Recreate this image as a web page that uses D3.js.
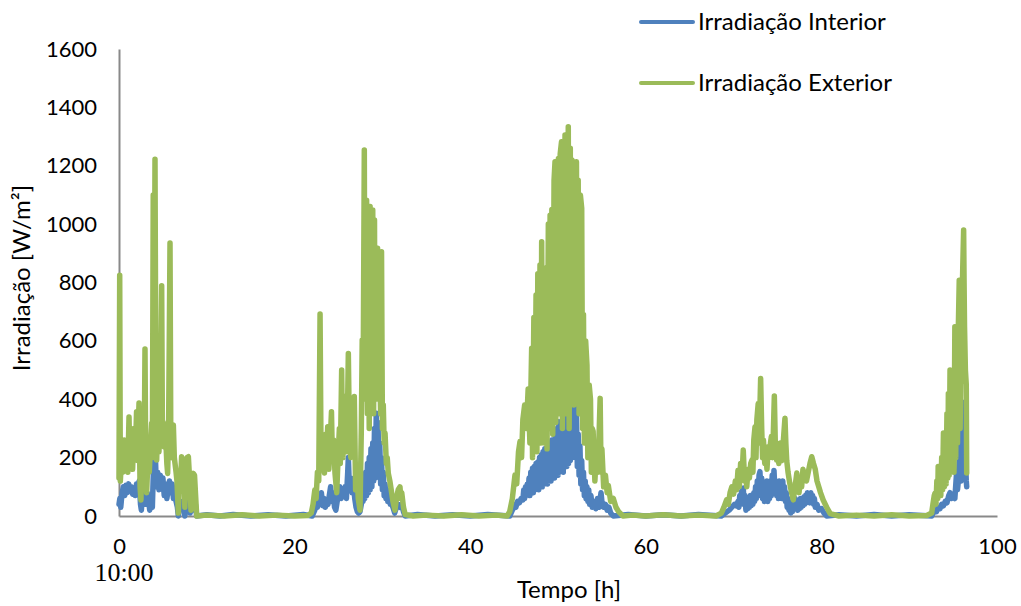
<!DOCTYPE html>
<html>
<head>
<meta charset="utf-8">
<script src="https://cdn.jsdelivr.net/npm/d3@7"></script>
<style>
  body { margin: 0; background: #fff; }
  text { font-family: Lato, "Open Sans", sans-serif; fill: #000; }
  .tick line { display: none; }
  .domain { stroke: #898989; stroke-width: 2; }
</style>
</head>
<body>
<div id="chart"></div>
<script>
// hours / W/m2
const interior = [
  [0,40],[0.1,60],[0.2,30],[0.35,80],[0.5,100],[0.65,70],[0.8,105],[0.95,80],[1.1,110],[1.25,90],[1.4,100],[1.55,75],
  [1.7,95],[1.85,70],[2.0,110],[2.15,90],[2.3,120],[2.45,40],[2.55,20],[2.7,100],[2.85,70],[2.95,130],[3.05,40],[3.2,80],
  [3.35,60],[3.5,20],[3.65,50],[3.8,30],[3.95,190],[4.05,120],[4.15,200],[4.25,100],[4.4,150],[4.55,90],[4.7,140],[4.85,100],
  [5.0,130],[5.15,70],[5.3,110],[5.45,60],[5.6,90],[5.75,120],[5.9,80],[6.05,110],[6.2,60],[6.35,90],[6.5,50],[6.65,30],
  [6.76,0],[6.9,40],[7.05,20],[7.2,50],[7.35,30],[7.5,0],[7.65,40],[7.8,20],[7.95,50],[8.1,10],[8.25,30],[8.4,50],[8.55,20],
  [8.7,40],[8.85,0],[10,4],[11.5,0],[13,5],[15,0],[17,4],[19,0],[21,5],[22,0],
  [22.3,20],[22.45,60],[22.6,30],[22.75,70],[22.9,50],[23.05,80],[23.2,35],[23.35,60],[23.5,30],[23.65,55],[23.8,40],[23.95,70],
  [24.1,100],[24.25,50],[24.4,80],[24.55,30],[24.7,20],[24.85,50],[25.0,70],[25.15,100],[25.3,60],[25.45,90],[25.6,70],[25.75,100],
  [25.9,60],[26.05,150],[26.12,200],[26.25,90],[26.4,130],[26.55,80],[26.7,110],[26.85,60],[27.0,30],[27.15,15],[27.3,10],[27.45,15],
  [27.6,40],[27.7,80],[27.8,50],[27.9,120],[28.0,60],[28.1,150],[28.2,70],[28.3,180],[28.4,80],[28.5,200],[28.6,90],[28.7,230],
  [28.8,100],[28.9,250],[29.0,120],[29.1,300],[29.2,130],[29.3,352],[29.4,150],[29.5,320],[29.6,140],[29.7,250],[29.8,110],[29.9,200],
  [30.0,90],[30.1,150],[30.2,70],[30.3,110],[30.4,60],[30.5,90],[30.6,50],[30.75,70],[30.9,40],
  [31.05,40],[31.2,30],[31.4,10],[31.6,30],[31.8,40],[32.0,30],[32.2,40],[32.4,15],[32.6,0],[34,5],[36,0],[38,4],[40,0],[42,5],[44.5,0],
  [44.8,20],[45.0,40],[45.2,30],[45.4,50],[45.6,45],[45.8,60],[46.0,55],[46.1,90],[46.2,60],[46.3,100],[46.4,70],[46.5,110],
  [46.6,80],[46.7,130],[46.8,70],[46.9,150],[47.0,90],[47.1,164],[47.2,80],[47.3,170],[47.4,90],[47.5,180],[47.6,100],[47.7,185],
  [47.8,90],[47.9,200],[48.0,110],[48.1,210],[48.2,100],[48.3,220],[48.4,110],[48.5,230],[48.6,120],[48.7,220],[48.8,110],[48.9,240],
  [49.0,130],[49.1,250],[49.2,120],[49.3,260],[49.4,140],[49.5,250],[49.6,130],[49.7,280],[49.8,150],[49.9,300],[50.0,140],[50.1,323],
  [50.2,160],[50.3,300],[50.4,170],[50.5,310],[50.6,150],[50.7,330],[50.8,180],[50.9,340],[51.0,170],[51.1,350],[51.2,180],[51.3,330],
  [51.4,190],[51.5,360],[51.6,200],[51.7,370],[51.8,210],[51.9,392],[52.0,200],[52.1,350],[52.2,170],[52.3,280],[52.4,140],[52.5,240],
  [52.6,110],[52.7,190],[52.8,90],[52.9,150],[53.0,70],[53.1,120],[53.2,60],[53.3,100],[53.4,50],[53.5,90],[53.6,40],[53.75,70],
  [53.9,30],[54.1,50],[54.3,25],[54.5,60],[54.7,30],[54.9,80],[55.0,50],[55.2,30],[55.4,40],[55.6,20],[55.8,30],[56.0,10],
  [56.3,0],[58,5],[60,0],[62,4],[64,0],[66,5],[68.6,0],[69.5,20],[69.8,30],[70.1,40],[70.3,35],
  [70.5,50],[70.6,30],[70.7,70],[70.8,40],[70.9,85],[71.0,50],[71.1,96],[71.2,40],[71.3,70],[71.4,20],[71.5,50],[71.6,25],
  [71.7,60],[71.8,30],[71.9,70],[72.0,35],[72.1,65],[72.2,40],[72.3,80],[72.4,50],[72.5,100],[72.6,60],[72.7,120],[72.8,70],
  [72.9,140],[73.0,152],[73.1,80],[73.2,130],[73.3,60],[73.4,100],[73.5,50],[73.6,110],[73.7,60],[73.8,120],[73.9,50],[74.0,100],
  [74.1,60],[74.2,120],[74.3,70],[74.4,140],[74.5,80],[74.6,156],[74.7,90],[74.8,120],[74.9,70],[75.0,110],[75.1,60],[75.2,120],
  [75.3,70],[75.4,110],[75.5,60],[75.6,120],[75.7,70],[75.8,100],[75.9,50],[76.0,80],[76.1,30],[76.2,60],[76.3,20],[76.4,40],
  [76.5,10],[76.6,30],[76.7,15],[76.8,50],[76.9,25],[77.0,60],[77.1,30],[77.2,55],[77.3,20],[77.4,50],[77.5,25],[77.6,60],
  [77.7,30],[77.8,55],[77.9,35],[78.0,65],[78.1,40],[78.2,70],[78.3,45],[78.4,80],[78.5,50],[78.6,75],[78.7,45],[78.8,80],
  [78.9,50],[79.0,70],[79.1,40],[79.2,60],[79.3,30],[79.5,40],[79.7,20],[80.0,25],[80.3,10],[80.6,0],
  [82,4],[84,0],[86,5],[88,0],[90,4],[92.56,0],[92.9,20],[93.1,15],[93.3,30],[93.5,25],[93.7,40],
  [93.9,35],[94.1,50],[94.3,45],[94.5,70],[94.65,80],[94.8,60],[95.0,70],[95.2,60],[95.4,150],[95.5,90],[95.6,120],[95.8,284],[95.9,120],
  [96.0,200],[96.15,250],[96.3,390],[96.4,200],[96.5,120],[96.55,100]
];

const exterior = [
  [0,130],[0.08,825],[0.15,120],[0.3,200],[0.45,150],[0.6,260],[0.75,170],[0.9,230],[1.0,150],[1.14,339],[1.25,180],[1.4,250],
  [1.55,160],[1.7,300],[1.85,200],[2.0,357],[2.1,190],[2.28,387],[2.4,100],[2.5,55],[2.6,200],[2.75,250],[2.85,120],[2.96,572],
  [3.05,150],[3.15,80],[3.3,200],[3.45,150],[3.6,250],[3.72,318],[3.8,200],[3.9,1100],[4.0,300],[4.1,1222],[4.2,400],[4.29,192],
  [4.4,300],[4.55,220],[4.7,350],[4.86,789],[4.95,250],[5.05,320],[5.16,237],[5.3,280],[5.45,180],[5.54,146],[5.65,300],[5.81,935],
  [5.9,250],[6.0,200],[6.19,312],[6.3,200],[6.5,150],[6.6,120],[6.76,10],[6.9,150],[7.0,100],[7.13,203],[7.25,150],[7.35,190],
  [7.5,30],[7.6,180],[7.75,200],[7.9,203],[8.05,120],[8.2,20],[8.35,120],[8.47,146],[8.6,140],[8.85,0],
  [10,3],[12,0],[14,4],[16,0],[18,3],[20,0],[21.5,2],[21.9,10],
  [22.1,40],[22.3,89],[22.45,60],[22.6,150],[22.75,120],[22.9,692],[23.0,250],[23.15,260],[23.25,180],[23.4,147],[23.55,280],[23.65,200],
  [23.77,306],[23.9,160],[24.05,250],[24.2,357],[24.3,200],[24.45,260],[24.6,147],[24.8,80],[24.95,200],[25.1,300],[25.2,180],[25.36,500],
  [25.45,250],[25.5,200],[25.6,350],[25.74,409],[25.85,220],[26.0,300],[26.12,557],[26.25,250],[26.4,200],[26.55,300],[26.65,240],[26.8,409],
  [26.95,89],[27.1,150],[27.25,60],[27.45,20],[27.6,300],[27.7,603],[27.8,400],[27.94,1254],[28.0,500],[28.05,1000],[28.1,1070],[28.15,400],
  [28.2,1082],[28.25,600],[28.3,350],[28.35,950],[28.4,1050],[28.45,500],[28.5,300],[28.55,900],[28.6,1060],[28.65,600],[28.7,450],[28.75,800],
  [28.8,900],[28.85,400],[28.9,1048],[28.95,700],[29.0,350],[29.05,850],[29.1,1014],[29.15,450],[29.2,500],[29.25,800],[29.35,603],[29.45,917],
  [29.55,400],[29.7,500],[29.8,350],[29.9,905],[30.0,300],[30.1,380],[30.2,250],[30.3,284],[30.45,180],[30.55,200],[30.67,146],[30.85,120],
  [31.05,80],[31.2,50],[31.43,20],[31.6,60],[31.8,90],[32.0,100],[32.1,60],[32.2,80],[32.4,30],[32.6,5],
  [33.5,0],[35,3],[37,0],[39,4],[41,0],[43,3],[44.2,0],[44.5,15],
  [44.8,60],[45.1,140],[45.3,110],[45.5,220],[45.67,255],[45.85,200],[46.0,330],[46.2,380],[46.4,300],[46.6,435],[46.8,250],[47.0,575],
  [47.1,200],[47.25,680],[47.35,250],[47.5,757],[47.6,220],[47.7,830],[47.8,300],[47.95,860],[48.05,250],[48.14,940],[48.25,300],[48.4,850],
  [48.5,250],[48.65,700],[48.75,230],[48.9,1000],[49.0,300],[49.1,1030],[49.2,350],[49.3,1050],[49.4,280],[49.55,1150],[49.66,1214],[49.75,320],
  [49.85,1200],[49.95,400],[50.05,1225],[50.15,350],[50.25,1240],[50.4,1282],[50.5,300],[50.6,1270],[50.7,400],[50.8,1305],[50.9,350],[51.0,1300],
  [51.1,450],[51.17,1334],[51.27,300],[51.4,1260],[51.5,420],[51.6,1220],[51.7,1202],[51.8,380],[51.95,1180],[52.1,1214],[52.2,400],[52.3,1150],
  [52.4,350],[52.55,1100],[52.7,1054],[52.8,300],[52.9,690],[53.0,250],[53.15,600],[53.3,517],[53.4,200],[53.55,450],[53.7,400],[53.8,150],
  [53.9,300],[54.0,290],[54.2,120],[54.4,230],[54.55,150],[54.7,300],[54.8,403],[54.9,150],[55.0,230],[55.2,100],[55.4,140],[55.6,80],
  [55.73,105],[56.0,50],[56.3,60],[56.6,30],[56.9,15],[57.4,0],
  [58.5,3],[60,0],[62,4],[64,0],[66,3],[68,0],[68.6,10],
  [68.9,30],[69.2,55],[69.4,40],[69.6,80],[69.8,100],[70.0,75],[70.2,120],[70.35,90],[70.5,157],[70.65,100],[70.8,180],[70.95,130],
  [71.1,226],[71.25,120],[71.35,150],[71.5,100],[71.65,160],[71.8,130],[71.95,180],[72.1,192],[72.2,150],[72.3,260],[72.44,306],[72.55,200],
  [72.65,330],[72.8,385],[72.9,250],[73.08,471],[73.2,300],[73.3,200],[73.4,260],[73.55,180],[73.65,220],[73.8,160],[73.95,237],[74.1,200],
  [74.2,250],[74.3,272],[74.45,200],[74.64,411],[74.75,250],[74.9,192],[75.05,220],[75.15,180],[75.3,250],[75.4,200],[75.5,190],[75.65,250],
  [75.85,335],[75.95,250],[76.05,190],[76.2,150],[76.4,112],[76.6,80],[76.8,55],[77.0,100],[77.2,147],[77.35,100],[77.45,80],[77.6,120],
  [77.75,100],[77.9,160],[78.1,130],[78.3,120],[78.5,150],[78.7,180],[78.9,203],[79.1,180],[79.3,160],[79.5,120],[79.7,100],[79.9,80],
  [80.2,55],[80.6,30],[81.0,8],
  [82,0],[84,3],[86,0],[88,4],[90,0],[92,2],[92.56,10],
  [92.7,40],[92.85,70],[92.94,78],[93.05,40],[93.15,120],[93.25,60],[93.3,170],[93.4,80],[93.5,140],[93.6,70],[93.7,200],[93.8,90],
  [93.9,284],[94.0,100],[94.1,260],[94.2,110],[94.3,350],[94.4,130],[94.46,420],[94.55,140],[94.65,500],[94.75,150],[94.85,450],[94.95,200],
  [95.05,400],[95.1,150],[95.2,648],[95.3,200],[95.4,600],[95.5,250],[95.6,650],[95.7,808],[95.8,300],[95.9,550],[96.0,700],
  [96.1,850],[96.2,980],[96.25,800],[96.3,650],[96.4,500],[96.5,450],[96.55,147]
];

const seriesNames = ["Irradiação Interior", "Irradiação Exterior"];
const seriesColors = ["#4f81bd", "#9bbb59"];
const xTicks = [0, 20, 40, 60, 80, 100];
const yTicks = [0, 200, 400, 600, 800, 1000, 1200, 1400, 1600];

const W = 1021, H = 606;
const margin = {top: 49, right: 24, bottom: 90, left: 119};
const width = W - margin.left - margin.right;
const height = H - margin.top - margin.bottom;

const svg = d3.select("#chart").append("svg")
    .attr("width", W)
    .attr("height", H);

const g = svg.append("g")
    .attr("transform", "translate(" + margin.left + "," + margin.top + ")");

const x = d3.scaleLinear().domain([0, 100]).range([0, width]);
const y = d3.scaleLinear().domain([0, 1600]).range([height, 0]);

// axes
const xAxis = g.append("g")
    .attr("transform", "translate(0," + height + ")")
    .call(d3.axisBottom(x).tickValues(xTicks).tickFormat(d3.format("d")).tickSize(0).tickPadding(22));
xAxis.selectAll("text").style("font-size", "22px");

const yAxis = g.append("g")
    .call(d3.axisLeft(y).tickValues(yTicks).tickFormat(d3.format("d")).tickSize(0).tickPadding(22));
yAxis.selectAll("text").style("font-size", "22px");

// lines
const line = d3.line()
    .x(d => x(d[0]))
    .y(d => y(d[1]));

[interior, exterior].forEach((s, i) => {
    g.append("path")
        .datum(s)
        .attr("fill", "none")
        .attr("stroke", seriesColors[i])
        .attr("stroke-width", 5.5)
        .attr("stroke-linejoin", "round")
        .attr("stroke-linecap", "round")
        .attr("d", line);
});

// axis titles
svg.append("text")
    .attr("x", 569)
    .attr("y", 598)
    .attr("text-anchor", "middle")
    .style("font-size", "24px")
    .text("Tempo [h]");

svg.append("text")
    .attr("transform", "translate(30,278) rotate(-90)")
    .attr("text-anchor", "middle")
    .style("font-size", "24px")
    .text("Irradiação [W/m²]");

svg.append("text")
    .attr("x", 124)
    .attr("y", 581)
    .attr("text-anchor", "middle")
    .style("font-family", "'Liberation Serif', 'Times New Roman', serif")
    .style("font-size", "26px")
    .text("10:00");

// legend
const legend = svg.append("g");
seriesNames.forEach((name, i) => {
    const ly = 22 + i * 61;
    legend.append("line")
        .attr("x1", 641).attr("x2", 693)
        .attr("y1", ly).attr("y2", ly)
        .attr("stroke", seriesColors[i])
        .attr("stroke-width", 4)
        .attr("stroke-linecap", "round");
    legend.append("text")
        .attr("x", 698)
        .attr("y", ly + 8)
        .style("font-size", "24px")
        .text(name);
});
</script>
</body>
</html>
